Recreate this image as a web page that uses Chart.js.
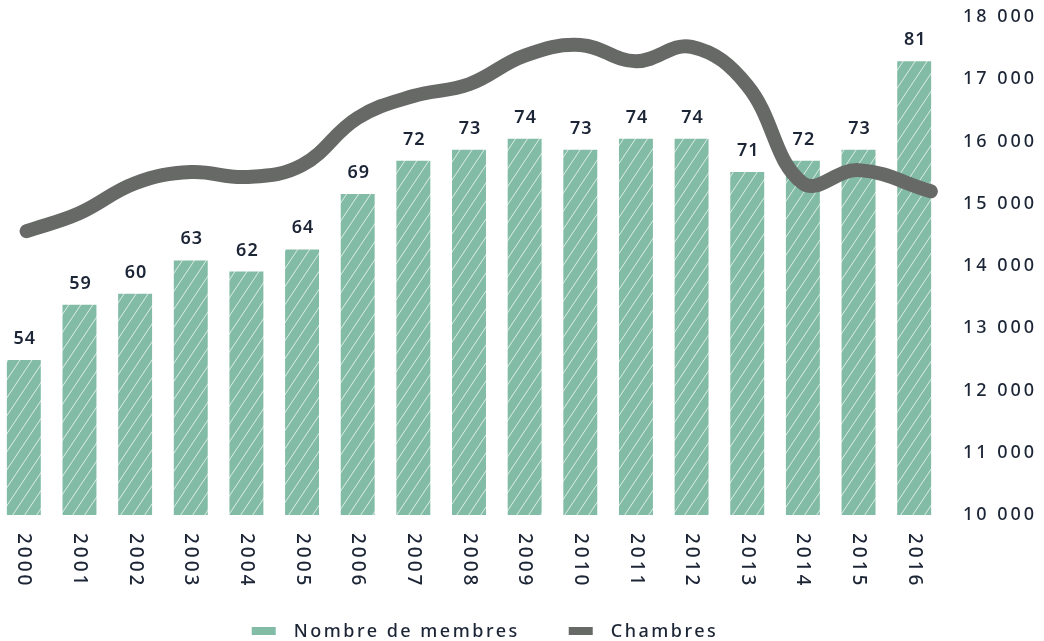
<!DOCTYPE html>
<html>
<head>
<meta charset="utf-8">
<script src="https://cdn.jsdelivr.net/npm/chart.js@4"></script>
<style>
	html, body { margin: 0; padding: 0; background: #fff; }
	#wrap { position: relative; width: 1044px; height: 641px; overflow: hidden; }
	#chart { position: absolute; left: -4px; top: 0; }
</style>
</head>
<body>
<div id="wrap"><canvas id="chart" width="1048" height="641"></canvas></div>
<script>
/* Membres & chambres 2000-2016 -- bars + smooth line, two axes */

const YEARS = ["2000", "2001", "2002", "2003", "2004", "2005", "2006", "2007", "2008",
	"2009", "2010", "2011", "2012", "2013", "2014", "2015", "2016"];
const MEMBRES = [54, 59, 60, 63, 62, 64, 69, 72, 73, 74, 73, 74, 74, 71, 72, 73, 81];
// line positions (year index); the last point sits past the 2016 bar centre
const CHAMBRES_X = [0.05, 1, 2, 3, 4, 5, 6, 7, 8, 9, 10, 11, 12, 13, 14, 15, 16.3];
const CHAMBRES = [14560, 14850, 15330, 15510, 15430, 15620, 16380, 16730, 16920,
	17380, 17550, 17290, 17520, 16900, 15330, 15540, 15200];
const CHAMBRES_TICKS = [10000, 11000, 12000, 13000, 14000, 15000, 16000, 17000, 18000];

const COLORS = {
	bar: "#83bca6",
	stripe: "rgba(255,255,255,0.72)",
	line: "#676967",
	text: "#1c2536",
};
const FONT = "'Noto Sans', sans-serif";

function hatch() {
	const w = 12, h = 18;
	const c = document.createElement("canvas");
	c.width = w; c.height = h;
	const g = c.getContext("2d");
	g.fillStyle = COLORS.bar;
	g.fillRect(0, 0, w, h);
	g.strokeStyle = COLORS.stripe;
	g.lineWidth = 1;
	g.beginPath();
	for (const dx of [-w, 0, w]) {
		g.moveTo(dx - 1, h + 1.5);
		g.lineTo(dx + w + 1, -1.5);
	}
	g.stroke();
	return g.createPattern(c, "repeat");
}

function fmtThousands(v) {
	return String(v).replace(/\B(?=(\d{3})+(?!\d))/g, " ");
}

// canvas letter spacing (reset whenever the canvas is resized)
const spacing = {
	id: "spacing",
	beforeLayout(chart) { chart.ctx.letterSpacing = "3px"; },
	beforeDraw(chart) { chart.ctx.letterSpacing = "3px"; },
};

const barLabels = {
	id: "barLabels",
	afterDatasetsDraw(chart) {
		const ctx = chart.ctx;
		const meta = chart.getDatasetMeta(0);
		ctx.save();
		ctx.letterSpacing = "1px";
		ctx.font = `600 18px ${FONT}`;
		ctx.fillStyle = COLORS.text;
		ctx.textAlign = "center";
		ctx.textBaseline = "alphabetic";
		meta.data.forEach((bar, i) => {
			ctx.fillText(String(MEMBRES[i]), bar.x + 1, bar.y - 16);
		});

		// rotated year labels (reading top to bottom)
		ctx.font = `500 19px ${FONT}`;
		ctx.letterSpacing = "3px";
		ctx.textAlign = "left";
		ctx.textBaseline = "middle";
		const xs = chart.scales.x;
		YEARS.forEach((y, i) => {
			ctx.save();
			ctx.translate(xs.getPixelForValue(i), chart.chartArea.bottom + 18);
			ctx.rotate(Math.PI / 2);
			ctx.fillText(y, 0, 0);
			ctx.restore();
		});
		ctx.restore();
	},
};

const bottomLegend = {
	id: "bottomLegend",
	afterDraw(chart) {
		const ctx = chart.ctx;
		ctx.save();
		ctx.font = `500 18px ${FONT}`;
		ctx.letterSpacing = "2.5px";
		ctx.textBaseline = "middle";
		const items = chart.data.datasets.map(ds => ({ label: ds.label, color: ds.legendColor }));
		const boxW = 24, boxH = 8, boxGap = 18, itemGap = 49;
		let total = 0;
		items.forEach((it, i) => {
			it.w = ctx.measureText(it.label).width;
			total += boxW + boxGap + it.w + (i ? itemGap : 0);
		});
		let x = 489 - total / 2;
		const y = 631;
		items.forEach(it => {
			ctx.fillStyle = it.color;
			ctx.fillRect(x, y - boxH / 2, boxW, boxH);
			x += boxW + boxGap;
			ctx.fillStyle = COLORS.text;
			ctx.fillText(it.label, x, y + 1);
			x += it.w + itemGap;
		});
		ctx.restore();
	},
};

new Chart(document.getElementById("chart"), {
	data: {
		labels: YEARS,
		datasets: [
			{
				type: "bar",
				label: "Nombre de membres",
				data: MEMBRES,
				xAxisID: "x",
				yAxisID: "y",
				backgroundColor: hatch(),
				legendColor: COLORS.bar,
				grouped: false,
				categoryPercentage: 1,
				barPercentage: 0.61,
				order: 2,
			},
			{
				type: "line",
				label: "Chambres",
				data: CHAMBRES.map((v, i) => ({ x: CHAMBRES_X[i], y: v })),
				xAxisID: "x2",
				yAxisID: "y1",
				borderColor: COLORS.line,
				legendColor: COLORS.line,
				borderWidth: 14,
				borderCapStyle: "round",
				borderJoinStyle: "round",
				tension: 0.4,
				pointRadius: 0,
				fill: false,
				order: 1,
			},
		],
	},
	options: {
		responsive: false,
		animation: false,
		devicePixelRatio: 1,
		layout: { padding: { top: 17, right: 7, left: 0, bottom: 0 } },
		plugins: {
			legend: { display: false },
			tooltip: { enabled: false },
		},
		scales: {
			x: {
				offset: true,
				grid: { display: false },
				border: { display: false },
				ticks: { display: false },
				afterFit(s) { s.height = 126; },
			},
			x2: {
				type: "linear",
				display: false,
				min: -0.5,
				max: 16.5,
			},
			y: {
				display: false,
				min: 40,
				max: 85,
			},
			y1: {
				position: "right",
				min: 10000,
				max: 18000,
				afterBuildTicks(s) { s.ticks = CHAMBRES_TICKS.map(v => ({ value: v })); },
				afterFit(s) { s.width = 95; },
				grid: { display: false, drawTicks: true, tickLength: 21 },
				border: { display: false },
				ticks: {
					padding: 0,
					color: COLORS.text,
					font: { family: FONT, size: 18, weight: "500" },
					callback: v => fmtThousands(v),
				},
			},
		},
	},
	plugins: [spacing, barLabels, bottomLegend],
});
</script>
</body>
</html>
